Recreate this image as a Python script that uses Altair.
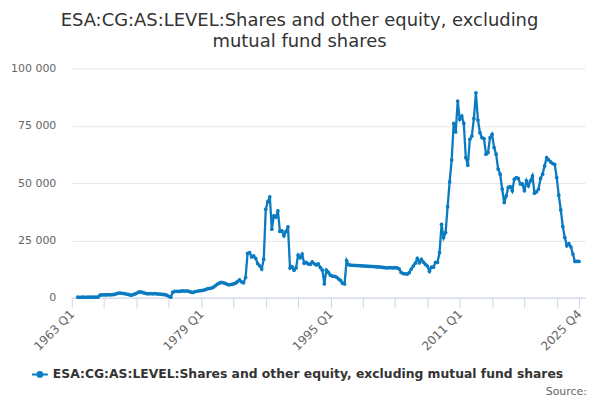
import altair as alt
import pandas as pd

# series name and colour
series_name = "ESA:CG:AS:LEVEL:Shares and other equity, excluding mutual fund shares"
line_color = "#0b7bc1"

# quarterly categories 1963 Q1 .. 2025 Q4
quarters = [f"{y} Q{k}" for y in range(1963, 2026) for k in range(1, 5)]

# values, four per year
values = [
    None, None, None, 200,          # 1963
    180, 200, 210, 190,             # 1964
    200, 220, 200, 210,             # 1965
    230, 250, 1100, 1200,           # 1966
    1250, 1200, 1300, 1250,         # 1967
    1300, 1400, 1700, 2000,         # 1968
    2000, 1900, 1800, 1600,         # 1969
    1400, 1100, 1200, 1500,         # 1970
    1900, 2400, 2500, 2300,         # 1971
    2000, 1800, 1700, 1800,         # 1972
    1700, 1800, 1700, 1600,         # 1973
    1500, 1400, 1300, 1100,         # 1974
    600, 200, 2400, 2700,           # 1975
    2800, 2700, 2900, 3000,         # 1976
    2900, 3000, 2700, 2400,         # 1977
    2300, 2600, 2800, 3000,         # 1978
    3100, 3200, 3500, 3800,         # 1979
    4000, 4200, 4500, 5200,         # 1980
    5900, 6300, 6700, 6500,         # 1981
    6200, 5800, 5600, 5800,         # 1982
    6000, 6300, 7000, 7800,         # 1983
    6900, 6500, 8800, 19300,        # 1984
    19700, 17800, 18200, 17200,     # 1985
    14900, 13900, 12500, 16800,     # 1986
    38600, 41900, 44000, 29900,     # 1987
    35700, 35100, 37900, 28900,     # 1988
    29200, 27000, 28900, 30900,     # 1989
    12900, 13500, 12000, 13000,     # 1990
    18600, 17400, 19000, 15000,     # 1991
    15400, 14700, 14500, 15600,     # 1992
    14800, 14300, 14700, 13200,     # 1993
    12000, 6000, 12000, 11000,      # 1994
    9800, 9400, 9300, 9000,         # 1995
    8200, 7500, 6300, 6000,         # 1996
    16200, 14400, 14200, 14100,     # 1997
    14100, 14000, 14000, 13900,     # 1998
    13900, 13800, 13800, 13700,     # 1999
    13700, 13600, 13500, 13400,     # 2000
    13400, 13300, 13200, 13100,     # 2001
    13000, 13100, 13100, 13000,     # 2002
    13100, 13000, 12600, 11000,     # 2003
    10500, 10400, 10300, 10900,     # 2004
    12500, 13800, 15000, 17100,     # 2005
    15200, 16700, 15500, 14500,     # 2006
    13800, 11500, 13300, 13300,     # 2007
    15400, 15400, 19700, 32000,     # 2008
    26200, 28400, 39700, 50500,     # 2009
    60100, 76000, 72300, 85800,     # 2010
    77800, 79200, 76000, 61100,     # 2011
    57800, 69100, 70500, 78200,     # 2012
    89400, 77500, 72000, 69800,     # 2013
    69400, 62600, 63300, 69800,     # 2014
    71300, 65500, 62600, 56100,     # 2015
    53900, 47400, 41500, 44400,     # 2016
    48100, 48500, 46600, 51700,     # 2017
    52400, 52000, 49600, 49600,     # 2018
    46600, 51000, 48800, 51000,     # 2019
    53100, 45600, 46200, 47400,     # 2020
    52000, 53900, 57500, 61100,     # 2021
    60100, 59200, 58500, 58200,     # 2022
    52400, 44700, 38300, 31000,     # 2023
    26200, 22600, 23600, 22200,     # 2024
    19000, 15800, 15800, 15800,     # 2025
]

# x axis: tick every 16 quarters, labels on a few of them
tick_pos = list(range(0, 241, 16)) + [251]
label_pos = [0, 64, 128, 192, 251]
label_txt = [quarters[i] for i in label_pos]
y_ticks = [0, 25000, 50000, 75000, 100000]

df = pd.DataFrame({
    "idx": range(len(quarters)),
    "quarter": quarters,
    "value": values,
    "series": series_name,
})

font = "DejaVu Sans"
W, H = 515, 230

x_label_expr = (
    f"indexof({label_pos}, datum.value) >= 0 ? "
    f"{label_txt}[indexof({label_pos}, datum.value)] : ''"
)

# legend symbol: short line with a dot in the middle
legend_symbol = "M-1,0L1,0M-0.3,0A0.3,0.3,0,1,0,0.3,0A0.3,0.3,0,1,0,-0.3,0Z"

line = alt.Chart(df).mark_line(
    strokeWidth=2.3,
    point=alt.OverlayMarkDef(filled=True, size=14, color=line_color),
).encode(
    x=alt.X("idx:Q", title=None,
            scale=alt.Scale(domain=[0, 254], nice=False, zero=False),
            axis=alt.Axis(values=tick_pos, labelExpr=x_label_expr,
                          labelAngle=-45, labelAlign="right", labelBaseline="middle",
                          labelFont=font, labelFontSize=12, labelColor="#666666",
                          labelPadding=4, tickSize=10, tickColor="#ccd6eb",
                          domainColor="#ccd6eb", grid=False, labelOverlap=False)),
    y=alt.Y("value:Q", title=None,
            scale=alt.Scale(domain=[0, 100000], nice=False),
            axis=alt.Axis(values=y_ticks, labelExpr="replace(datum.label, ',', ' ')",
                          labelFont=font, labelFontSize=11, labelColor="#666666",
                          labelPadding=16, tickSize=0, domain=False,
                          gridColor="#e6e6e6", minExtent=64, maxExtent=64)),
    color=alt.Color("series:N", scale=alt.Scale(range=[line_color]),
                    legend=alt.Legend(title=None, orient="none", legendX=-41, legendY=298,
                                      symbolType=legend_symbol, symbolSize=256,
                                      symbolStrokeWidth=2, symbolFillColor=line_color,
                                      symbolStrokeColor=line_color,
                                      labelFont=font, labelFontSize=12.4, labelFontWeight="bold",
                                      labelColor="#333333", labelLimit=0)),
)

source = alt.Chart(pd.DataFrame({"t": ["Source:"]})).mark_text(
    align="right", baseline="middle", font=font, fontSize=11, color="#666666",
).encode(text="t:N", x=alt.value(W + 2), y=alt.value(H + 95))

chart = alt.layer(line, source).properties(
    width=W, height=H,
    padding={"left": 0, "top": 3, "right": 5, "bottom": 0},
    title=alt.TitleParams(
        text=["ESA:CG:AS:LEVEL:Shares and other equity, excluding", "mutual fund shares"],
        font=font, fontSize=18, fontWeight="normal", color="#333333",
        anchor="middle", lineHeight=20.5, offset=12, dx=-29,
    ),
).configure_view(stroke=None)

chart.save("out.html", embed_options={"renderer": "svg", "actions": False})
